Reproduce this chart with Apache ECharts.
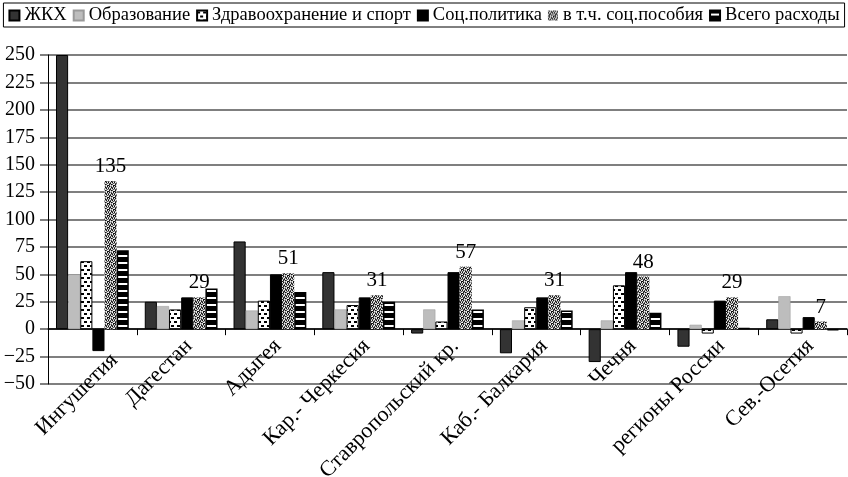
<!DOCTYPE html>
<html><head><meta charset="utf-8">
<script src="https://cdn.jsdelivr.net/npm/echarts@6/dist/echarts.min.js"></script>
<style>html,body{margin:0;padding:0;background:#fff}#c{width:848px;height:477px}</style>
</head><body><div id="c"></div>
<script>
const categories = ['Ингушетия','Дагестан','Адыгея','Кар.- Черкесия','Ставропольский кр.','Каб.- Балкария','Чечня','регионы России','Сев.-Осетия'];
const seriesNames = ['ЖКХ','Образование','Здравоохранение и спорт','Соц.политика','в т.ч. соц.пособия','Всего расходы'];
const zhkh        = [250, 25, 80, 52, -4, -22, -30, -16, 9];
const obrazovanie = [50, 21, 17, 18, 18, 8, 8, 4, 30];
const zdrav       = [62, 18, 26, 22, 7, 20, 40, -4, -4];
const socpol      = [-20, 29, 50, 29, 52, 29, 52, 26, 11];
const posobiya    = [135, 29, 51, 31, 57, 31, 48, 29, 7];
const vsego       = [72, 37, 34, 25, 18, 17, 15, 1, -1];
const yMin = -50, yMax = 250, yStep = 25;

function tile(w, h, draw) {
  const c = document.createElement('canvas'); c.width = w; c.height = h;
  draw(c.getContext('2d')); return c;
}
const brick = tile(6, 8, g => {
  g.fillStyle = '#fff'; g.fillRect(0, 0, 6, 8);
  g.fillStyle = '#000'; g.fillRect(0, 1, 3, 2); g.fillRect(3, 5, 3, 2);
});
const stripes = tile(4, 7, g => {
  g.fillStyle = '#000'; g.fillRect(0, 0, 4, 7);
  g.fillStyle = '#fff'; g.fillRect(0, 3, 4, 2);
});
const speckMap = ['302130','123012','031203','210321','302013','013230'];
const speckCols = ['#111','#555','#aaa','#eee'];
const speck = tile(6, 6, g => {
  for (let y = 0; y < 6; y++) for (let x = 0; x < 6; x++) {
    g.fillStyle = speckCols[+speckMap[y][x]]; g.fillRect(x, y, 1, 1);
  }
});

const font = '"Liberation Serif","Times New Roman",serif';
const styles = [
  {color: '#333', borderColor: '#000', borderWidth: 1},
  {color: '#bdbdbd', borderColor: '#999', borderWidth: 0.5},
  {color: {image: brick, repeat: 'repeat'}, borderColor: '#000', borderWidth: 1},
  {color: '#000', borderColor: '#000', borderWidth: 1},
  {color: {image: speck, repeat: 'repeat'}, borderWidth: 0},
  {color: {image: stripes, repeat: 'repeat'}, borderColor: '#000', borderWidth: 1.5}
];
const values = [zhkh, obrazovanie, zdrav, socpol, posobiya, vsego];

const chart = echarts.init(document.getElementById('c'), null, {renderer: 'canvas'});
chart.setOption({
  animation: false,
  textStyle: {fontFamily: font},
  legend: {
    top: 3, left: 'center', icon: 'rect', itemWidth: 10, itemHeight: 10, itemGap: 6,
    borderColor: '#000', borderWidth: 1, padding: [3, 5, 2, 5],
    textStyle: {fontFamily: font, fontSize: 18.5, color: '#000'},
    data: seriesNames
  },
  grid: {left: 48, right: 1, top: 55, bottom: 93, containLabel: false, outerBoundsMode: 'none'},
  xAxis: {
    type: 'category', data: categories,
    axisLine: {onZero: true, lineStyle: {color: '#000', width: 1.5}},
    axisTick: {show: true, length: 6, lineStyle: {color: '#000'}},
    axisLabel: {rotate: 45, interval: 0, fontSize: 22, color: '#000', fontFamily: font,
      margin: -49, verticalAlign: 'top',
      formatter: (v, i) => i === 0 ? '{s|' + v + '}' : v,
      rich: {s: {fontSize: 22, fontFamily: font, color: '#000', padding: [20, 0, 0, 0]}}}
  },
  yAxis: {
    type: 'value', min: yMin, max: yMax, interval: yStep,
    axisLine: {show: true, lineStyle: {color: '#000', width: 1}},
    axisTick: {show: true, length: 8, lineStyle: {color: '#555', width: 1.5}},
    splitLine: {lineStyle: {color: '#555', width: 1.5}},
    axisLabel: {fontSize: 20, color: '#000', fontFamily: font, margin: 13,
      formatter: v => String(v).replace('-', '\u2212')}
  },
  series: seriesNames.map((n, i) => ({
    name: n, type: 'bar', data: values[i], barGap: '0%', barCategoryGap: '18%',
    itemStyle: styles[i],
    label: i === 4 ? {show: true, position: 'top', fontSize: 21, color: '#000', fontFamily: font, distance: 4} : {show: false}
  }))
});
</script></body></html>
